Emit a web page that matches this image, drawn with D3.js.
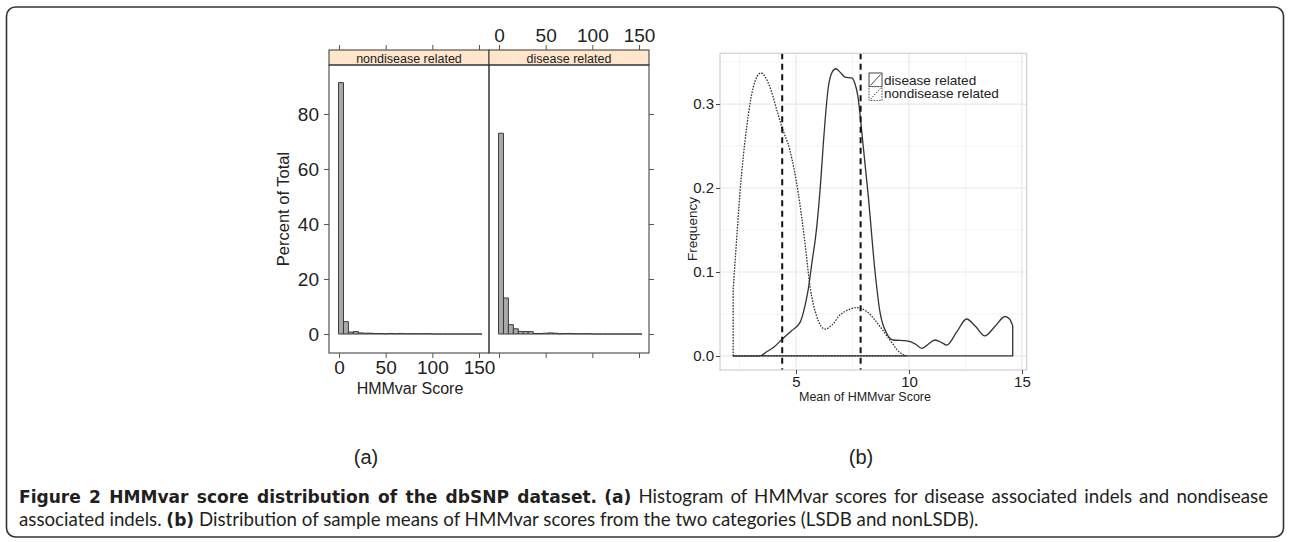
<!DOCTYPE html>
<html><head><meta charset="utf-8">
<script src="https://cdn.jsdelivr.net/npm/d3@7"></script>
<style>body{margin:0;background:#fff}svg{display:block}</style>
</head><body><svg id="c" width="1290" height="542"></svg>
<script>
// ---------- data ----------
const panelNames = ["nondisease related", "disease related"];
const breaks = [-0.5, 4.8, 10.1, 15.4, 20.7, 26.0, 31.3, 36.6, 41.9, 47.2, 52.5, 57.8, 63.1, 68.4, 73.7, 79.0,
  84.3, 89.6, 94.9, 100.2, 105.5, 110.8, 116.1, 121.4, 126.7, 132.0, 137.3, 142.6, 147.9, 153.2];
const nondiseasePct = [91.4, 4.5, 0.7, 0.9, 0.4, 0.3, 0.3, 0.2, 0.2, 0.1, 0.2, 0.1, 0.2, 0.1, 0.1, 0.1, 0.1, 0.1, 0.1, 0, 0, 0, 0, 0, 0, 0, 0, 0, 0];
const diseasePct = [73.0, 13.1, 3.4, 1.9, 0.95, 0.9, 0.9, 0.2, 0.2, 0.3, 0.4, 0.3, 0.1, 0.2, 0.2, 0.1, 0.1, 0.1, 0.1, 0, 0, 0, 0, 0, 0, 0, 0, 0, 0];
const histTicksX = [0, 50, 100, 150];
const histTicksY = [0, 20, 40, 60, 80];

const diseaseDensity = [[2.22, 0], [3.4, 0], [3.7, 0.005], [4.0, 0.01], [4.39, 0.02], [4.8, 0.03], [5.18, 0.04], [5.4, 0.06],
  [5.54, 0.079], [5.7, 0.11], [5.92, 0.154], [6.1, 0.21], [6.21, 0.253], [6.43, 0.32], [6.6, 0.338], [6.76, 0.342],
  [6.95, 0.338], [7.17, 0.332], [7.46, 0.331], [7.6, 0.325], [7.74, 0.309], [7.9, 0.27], [8.05, 0.23], [8.2, 0.19],
  [8.5, 0.1], [8.7, 0.055], [9.01, 0.027], [9.3, 0.019], [9.9, 0.018], [10.3, 0.014], [10.56, 0.009], [10.85, 0.014],
  [11.15, 0.019], [11.45, 0.016], [11.67, 0.013], [12.1, 0.028], [12.55, 0.044], [12.95, 0.035], [13.36, 0.024],
  [13.8, 0.035], [14.25, 0.047], [14.45, 0.044], [14.59, 0.036]];
const nondiseaseDensity = [[2.22, 0.079], [2.35, 0.13], [2.52, 0.194], [2.82, 0.273], [3.11, 0.32], [3.44, 0.337],
  [3.85, 0.32], [4.15, 0.293], [4.37, 0.273], [4.73, 0.245], [5.1, 0.194], [5.4, 0.134], [5.62, 0.083], [5.92, 0.047],
  [6.28, 0.032], [6.6, 0.037], [6.95, 0.049], [7.24, 0.054], [7.69, 0.0575], [8.13, 0.053], [8.72, 0.035],
  [9.16, 0.019], [9.6, 0.004], [9.9, 0]];
const meanLines = [4.39, 7.86];
const densTicksX = [5, 10, 15];
const densTicksY = [0, 0.1, 0.2, 0.3];
const densMinorX = [2.5, 7.5, 12.5];
const densMinorY = [0.05, 0.15, 0.25, 0.35];
const legendLabels = ["disease related", "nondisease related"];
const panelLabels = ["(a)", "(b)"];

// ---------- drawing ----------
const svg = d3.select("#c");
const FONT = "'Liberation Sans', Arial, Helvetica, sans-serif";
const INK = "#222";

// outer frame
svg.append("rect").attr("x", 6.5).attr("y", 7).attr("width", 1277).attr("height", 530)
  .attr("rx", 9).attr("fill", "none").attr("stroke", "#333").attr("stroke-width", 1.6);

// ===== panel (a): lattice histogram =====
const aTop = 65, aBot = 353, stripTop = 50;
const panelX = [[329, 489], [489, 649]];
const yA = d3.scaleLinear().domain([-6.9, 97.8]).range([aBot, aTop]);
const gA = svg.append("g");
const series = [nondiseasePct, diseasePct];

panelX.forEach((r, p) => {
  const xA = d3.scaleLinear().domain([-10.7, 160.7]).range(r);
  const g = gA.append("g");
  // strip
  g.append("rect").attr("x", r[0]).attr("y", stripTop).attr("width", r[1] - r[0]).attr("height", aTop - stripTop)
    .attr("fill", "#ffe5cc").attr("stroke", "#333").attr("stroke-width", 1);
  g.append("text").attr("x", (r[0] + r[1]) / 2).attr("y", 62.5).attr("text-anchor", "middle")
    .attr("font-family", FONT).attr("font-size", 12.5).attr("fill", INK).text(panelNames[p]);
  // bars (paths so that empty bins still draw as a line on the baseline)
  g.selectAll("path.bar").data(series[p]).join("path").attr("class", "bar")
    .attr("d", (d, i) => {
      const x0 = xA(breaks[i]), x1 = xA(breaks[i + 1]), y0 = yA(0), y1 = yA(d);
      return `M${x0},${y0}V${y1}H${x1}V${y0}Z`;
    })
    .attr("fill", "#a9a9a9").attr("stroke", "#3a3a3a").attr("stroke-width", 1);
  // panel box
  g.append("rect").attr("x", r[0]).attr("y", aTop).attr("width", r[1] - r[0]).attr("height", aBot - aTop)
    .attr("fill", "none").attr("stroke", "#333").attr("stroke-width", 1);
  // x axes: bottom (labels on left panel only), top (labels on right panel only)
  const bot = g.append("g").attr("transform", `translate(0,${aBot})`)
    .call(d3.axisBottom(xA).tickValues(histTicksX).tickSize(5).tickPadding(3)
      .tickFormat(p === 0 ? d3.format("d") : () => ""));
  const top = g.append("g").attr("transform", `translate(0,${stripTop})`)
    .call(d3.axisTop(xA).tickValues(histTicksX).tickSize(5).tickPadding(3)
      .tickFormat(p === 1 ? d3.format("d") : () => ""));
  [bot, top].forEach(ax => {
    ax.select(".domain").remove();
    ax.selectAll("line").attr("stroke", "#555");
    ax.selectAll("text").attr("font-family", FONT).attr("font-size", 19).attr("fill", INK);
  });
});
// y axes (left with labels, right ticks only)
const yLeft = gA.append("g").attr("transform", `translate(${panelX[0][0]},0)`)
  .call(d3.axisLeft(yA).tickValues(histTicksY).tickSize(5).tickPadding(5).tickFormat(d3.format("d")));
const yRight = gA.append("g").attr("transform", `translate(${panelX[1][1]},0)`)
  .call(d3.axisRight(yA).tickValues(histTicksY).tickSize(5).tickFormat(() => ""));
[yLeft, yRight].forEach(ax => {
  ax.select(".domain").remove();
  ax.selectAll("line").attr("stroke", "#555");
  ax.selectAll("text").attr("font-family", FONT).attr("font-size", 19).attr("fill", INK);
});
gA.append("text").attr("transform", "translate(289,209) rotate(-90)").attr("text-anchor", "middle")
  .attr("font-family", FONT).attr("font-size", 16.5).attr("fill", INK).text("Percent of Total");
gA.append("text").attr("x", 410).attr("y", 394).attr("text-anchor", "middle")
  .attr("font-family", FONT).attr("font-size", 16).attr("fill", INK).text("HMMvar Score");

// ===== panel (b): density plot =====
const bL = 720, bR = 1026.7, bT = 53.3, bB = 370;
const xB = d3.scaleLinear().domain([1.637, 15.21]).range([bL, bR]);
const yB = d3.scaleLinear().domain([-0.0167, 0.3604]).range([bB, bT]);
const gB = svg.append("g");
// grid
gB.selectAll("line.mnx").data(densMinorX).join("line").attr("x1", d => xB(d)).attr("x2", d => xB(d))
  .attr("y1", bT).attr("y2", bB).attr("stroke", "#f3f3f3").attr("stroke-width", 1);
gB.selectAll("line.mny").data(densMinorY).join("line").attr("y1", d => yB(d)).attr("y2", d => yB(d))
  .attr("x1", bL).attr("x2", bR).attr("stroke", "#f3f3f3").attr("stroke-width", 1);
gB.selectAll("line.mjx").data(densTicksX).join("line").attr("x1", d => xB(d)).attr("x2", d => xB(d))
  .attr("y1", bT).attr("y2", bB).attr("stroke", "#e8e8e8").attr("stroke-width", 1.2);
gB.selectAll("line.mjy").data(densTicksY).join("line").attr("y1", d => yB(d)).attr("y2", d => yB(d))
  .attr("x1", bL).attr("x2", bR).attr("stroke", "#e8e8e8").attr("stroke-width", 1.2);

const line = d3.line().x(d => xB(d[0])).y(d => yB(d[1])).curve(d3.curveMonotoneX);
// disease (solid), closed to baseline
const dStart = diseaseDensity[0], dEnd = diseaseDensity[diseaseDensity.length - 1];
gB.append("path")
  .attr("d", line(diseaseDensity) + `L${xB(dEnd[0])},${yB(0)}L${xB(dStart[0])},${yB(0)}Z`)
  .attr("fill", "none").attr("stroke", "#333").attr("stroke-width", 1.3);
// nondisease (dotted), closed to baseline
const nStart = nondiseaseDensity[0], nEnd = nondiseaseDensity[nondiseaseDensity.length - 1];
gB.append("path")
  .attr("d", `M${xB(nStart[0])},${yB(0)}L` + line(nondiseaseDensity).slice(1) + `L${xB(nEnd[0])},${yB(0)}Z`)
  .attr("fill", "none").attr("stroke", "#333").attr("stroke-width", 1.3).attr("stroke-dasharray", "1.6,1.3");
// mean lines
gB.selectAll("line.mean").data(meanLines).join("line").attr("x1", d => xB(d)).attr("x2", d => xB(d))
  .attr("y1", bT).attr("y2", bB).attr("stroke", "#111").attr("stroke-width", 2).attr("stroke-dasharray", "6,4.5");
// border
gB.append("rect").attr("x", bL).attr("y", bT).attr("width", bR - bL).attr("height", bB - bT)
  .attr("fill", "none").attr("stroke", "#cfcfcf").attr("stroke-width", 1.2);
// axes
const axYB = gB.append("g").attr("transform", `translate(${bL},0)`)
  .call(d3.axisLeft(yB).tickValues(densTicksY).tickSize(4).tickPadding(2).tickFormat(d3.format(".1f")));
const axXB = gB.append("g").attr("transform", `translate(0,${bB})`)
  .call(d3.axisBottom(xB).tickValues(densTicksX).tickSize(4).tickPadding(2).tickFormat(d3.format("d")));
[axYB, axXB].forEach(ax => {
  ax.select(".domain").remove();
  ax.selectAll("line").attr("stroke", "#444");
  ax.selectAll("text").attr("font-family", FONT).attr("font-size", 15).attr("fill", INK);
});
gB.append("text").attr("transform", "translate(697,229) rotate(-90)").attr("text-anchor", "middle")
  .attr("font-family", FONT).attr("font-size", 13.5).attr("fill", INK).text("Frequency");
gB.append("text").attr("x", 865).attr("y", 401).attr("text-anchor", "middle")
  .attr("font-family", FONT).attr("font-size", 12.5).attr("fill", INK).text("Mean of HMMvar Score");

// legend
const lg = gB.append("g").attr("transform", "translate(869,73)");
const keyDash = [null, "1.5,1.3"];
legendLabels.forEach((lab, i) => {
  const k = lg.append("g").attr("transform", `translate(0,${i * 13.7})`);
  k.append("rect").attr("x", 0).attr("y", 0).attr("width", 13).attr("height", 13.7)
    .attr("fill", "#fff").attr("stroke", "#444").attr("stroke-width", 1).attr("stroke-dasharray", keyDash[i]);
  k.append("line").attr("x1", 1.5).attr("y1", 12.5).attr("x2", 11.5).attr("y2", 1.5)
    .attr("stroke", "#444").attr("stroke-width", 1).attr("stroke-dasharray", keyDash[i]);
  k.append("text").attr("x", 15).attr("y", 11.5).attr("font-family", FONT).attr("font-size", 13.6)
    .attr("fill", INK).text(lab);
});

// sub-figure labels
[[366, panelLabels[0]], [861, panelLabels[1]]].forEach(([x, t]) => {
  svg.append("text").attr("x", x).attr("y", 464).attr("text-anchor", "middle")
    .attr("font-family", FONT).attr("font-size", 20).attr("fill", INK).text(t);
});

// caption (justified paragraph: first line stretched to full width, last line natural)
const CAP_REG = "Lato, 'Open Sans', sans-serif";
const CAP_BOLD = "'DejaVu Sans', 'Open Sans', sans-serif";
const capLines = [
  [["Figure 2 HMMvar score distribution of the dbSNP dataset.", true], [" ", false], ["(a)", true],
   [" Histogram of HMMvar scores for disease associated indels and nondisease", false]],
  [["associated indels. ", false], ["(b)", true],
   [" Distribution of sample means of HMMvar scores from the two categories (LSDB and nonLSDB).", false]]
];
const capY = [503, 525.5];
const capTargetW = [1249, 960];   // widths of the two caption lines in the figure
const boldTitleW = 560;           // width of the bold title sentence
const capTexts = capLines.map((parts, li) => {
  const t = svg.append("text").attr("x", 19).attr("y", capY[li]).attr("fill", "#231f20").attr("xml:space", "preserve");
  parts.forEach(([s, b]) => t.append("tspan").attr("class", b ? "capb" : "capr")
    .attr("font-family", b ? CAP_BOLD : CAP_REG).attr("font-weight", b ? "bold" : "normal")
    .attr("font-size", 17).text(s));
  return t;
});
// bold size from the title sentence
const tW = capTexts[0].select("tspan.capb").node().getComputedTextLength();
const sBold = Math.max(14, Math.min(18.5, 17 * boldTitleW / tW));
svg.selectAll("tspan.capb").attr("font-size", sBold);
// regular size from the (unjustified) last line
let wb2 = 0, wr2 = 0;
capTexts[1].selectAll("tspan.capb").each(function () { wb2 += this.getComputedTextLength(); });
capTexts[1].selectAll("tspan.capr").each(function () { wr2 += this.getComputedTextLength(); });
const sReg = Math.max(14, Math.min(18.8, 17 * (capTargetW[1] - wb2) / wr2));
svg.selectAll("tspan.capr").attr("font-size", sReg);
// justify the first line with word spacing
const w1 = capTexts[0].node().getComputedTextLength();
const nSp = capLines[0].map(p => p[0]).join("").split(" ").length - 1;
if (w1 < capTargetW[0]) {
  capTexts[0].style("word-spacing", ((capTargetW[0] - w1) / nSp) + "px");
  const w1b = capTexts[0].node().getComputedTextLength();
  if (Math.abs(w1b - capTargetW[0]) > 6) {
    capTexts[0].style("word-spacing", null).attr("textLength", capTargetW[0]).attr("lengthAdjust", "spacing");
  }
}
</script></body></html>
